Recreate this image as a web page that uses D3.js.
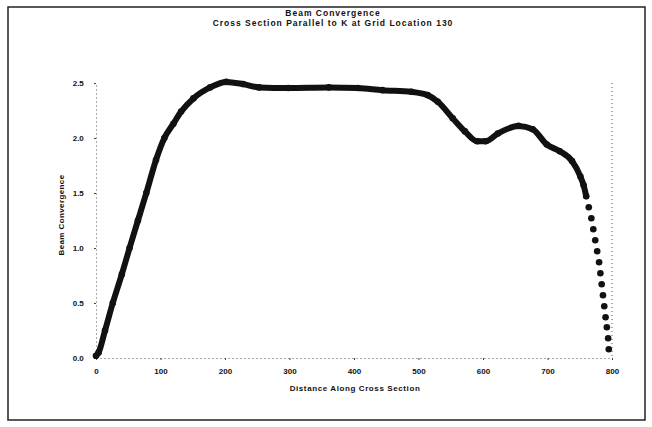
<!DOCTYPE html>
<html>
<head>
<meta charset="utf-8">
<script src="https://cdn.jsdelivr.net/npm/d3@7"></script>
<style>
  body { margin: 0; background: #fff; }
  text { font-family: "Liberation Sans", Arial, sans-serif; font-weight: bold; fill: #111; }
</style>
</head>
<body>
<div id="graph"></div>
<script>
// distance along cross section
const distance = [0, 4, 14, 26, 40, 52, 65, 78, 93, 106, 120, 132, 151, 177, 202, 228, 253, 298, 361, 406, 444, 489, 514, 530, 553, 572, 591, 604, 623, 655, 677, 699, 719, 738, 751, 756, 760, 764, 768, 771, 774, 777, 780, 782, 784, 786, 788, 790, 792, 794, 795];
// beam convergence
const convergence = [0.02, 0.05, 0.25, 0.5, 0.76, 1.0, 1.25, 1.5, 1.8, 2.0, 2.13, 2.24, 2.36, 2.46, 2.51, 2.49, 2.46, 2.455, 2.46, 2.455, 2.435, 2.42, 2.39, 2.33, 2.18, 2.06, 1.97, 1.97, 2.04, 2.11, 2.08, 1.94, 1.88, 1.79, 1.65, 1.57, 1.47, 1.37, 1.27, 1.17, 1.07, 0.97, 0.87, 0.77, 0.67, 0.57, 0.47, 0.37, 0.28, 0.18, 0.08];

const xTicks = [0, 100, 200, 300, 400, 500, 600, 700, 800];
const yTicks = [0, 0.5, 1.0, 1.5, 2.0, 2.5];

const data = distance.map((d, i) => ({ x: d, y: convergence[i] }));

const W = 652, H = 427;
const margin = { top: 83, right: 40, bottom: 69, left: 96 };
const width = 612 - margin.left;
const height = 358 - margin.top;

const svg = d3.select('div#graph')
    .append('svg')
        .attr('width', W)
        .attr('height', H);

svg.append('rect')
    .attr('x', 8).attr('y', 7)
    .attr('width', 637).attr('height', 413)
    .attr('fill', 'none')
    .attr('stroke', '#222')
    .attr('stroke-width', 1.5);

svg.append('text')
    .attr('x', 333).attr('y', 16)
    .attr('text-anchor', 'middle')
    .style('font-size', '8.5px')
    .style('letter-spacing', '1px')
    .text('Beam Convergence');

svg.append('text')
    .attr('x', 333).attr('y', 26)
    .attr('text-anchor', 'middle')
    .style('font-size', '8.5px')
    .style('letter-spacing', '1px')
    .text('Cross Section Parallel to K at Grid Location 130');

const g = svg.append('g')
    .attr('transform', `translate(${margin.left},${margin.top})`);

const xScale = d3.scaleLinear()
    .domain([0, 800])
    .range([0, width]);

const yScale = d3.scaleLinear()
    .domain([0, 2.5])
    .range([height, 0]);

const xAxis = g.append('g')
    .attr('transform', `translate(0, ${height})`)
    .call(d3.axisBottom(xScale).tickValues(xTicks).tickSize(2).tickSizeOuter(0).tickFormat(d3.format('d')));

const yAxis = g.append('g')
    .call(d3.axisLeft(yScale).tickValues(yTicks).tickSize(2).tickSizeOuter(0).tickFormat(d3.format('.1f')));

// right border of plot area
g.append('line')
    .attr('x1', width).attr('x2', width)
    .attr('y1', 0).attr('y2', height)
    .attr('stroke', '#555')
    .attr('stroke-dasharray', '1,3');

[xAxis, yAxis].forEach(a => {
    a.select('.domain').attr('stroke', '#555').attr('stroke-dasharray', '1,3');
    a.selectAll('.tick line').attr('stroke', '#444');
    a.selectAll('.tick text').style('font-size', '8px').style('font-family', '"Liberation Sans", Arial, sans-serif').style('font-weight', 'bold').attr('fill', '#111');
});
xAxis.selectAll('.tick text').attr('dy', '1.4em');
yAxis.selectAll('.tick text').attr('dx', '-0.9em');

svg.append('text')
    .attr('x', 355).attr('y', 391)
    .attr('text-anchor', 'middle')
    .style('font-size', '8px')
    .style('letter-spacing', '0.6px')
    .text('Distance Along Cross Section');

svg.append('text')
    .attr('transform', 'translate(64, 215) rotate(-90)')
    .attr('text-anchor', 'middle')
    .style('font-size', '8px')
    .style('letter-spacing', '0.4px')
    .text('Beam Convergence');

const line = d3.line()
    .x(d => xScale(d.x))
    .y(d => yScale(d.y))
    .curve(d3.curveMonotoneX);

// continuous thick trace up to where the markers start to separate
g.append('path')
    .datum(data.filter(d => d.x <= 760))
    .attr('d', line)
    .attr('fill', 'none')
    .attr('stroke', '#111')
    .attr('stroke-width', 6)
    .attr('stroke-linejoin', 'round')
    .attr('stroke-linecap', 'round');

g.selectAll('circle')
    .data(data).enter()
    .append('circle')
        .attr('cx', d => xScale(d.x))
        .attr('cy', d => yScale(d.y))
        .attr('r', 3.3)
        .attr('fill', '#111');
</script>
</body>
</html>
